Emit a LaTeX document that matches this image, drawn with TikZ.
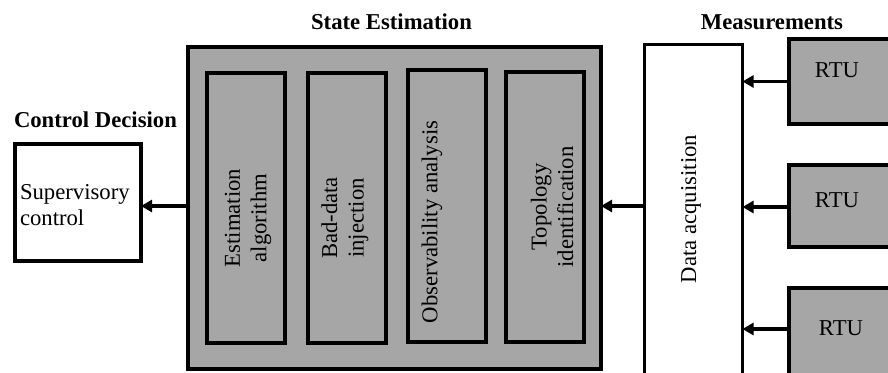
\documentclass[tikz,border=0pt]{standalone}
\usepackage{fontspec}
\setmainfont{Liberation Serif}
\usetikzlibrary{arrows.meta,calc}
\definecolor{boxgray}{RGB}{166,166,166}
\begin{document}
\begin{tikzpicture}[x=1pt,y=-1pt,
  every node/.style={font=\fontsize{22.7}{26.5}\selectfont, inner sep=0pt, outer sep=0pt},
  graybox/.style={draw=black, fill=boxgray, line width=4pt},
  whitebox/.style={draw=black, fill=white, line width=3.6pt},
  inbox/.style={graybox, minimum width=78pt, minimum height=270pt},
  vtext/.style={rotate=90, align=center},
  title/.style={font=\fontsize{22.7}{26}\selectfont\bfseries, anchor=base},
  arr/.style={line width=3.6pt, -{Triangle[length=11pt,width=12pt]}}]
\useasboundingbox (0,0) rectangle (888,372);

% state estimation block and its four stages
\node[graybox, minimum width=413pt, minimum height=322pt] (se) at (394.5,208) {};
\node[inbox] (e1) at (246,207.5) {};
\node[inbox] (e2) at (346.5,207.5) {};
\node[inbox, minimum height=272pt] (e3) at (446.5,206) {};
\node[inbox] (e4) at (544.5,206.5) {};
\node[vtext] (t1) at (248,218) {Estimation\\algorithm};
\node[vtext] (t2) at (345,218) {Bad-data\\injection};
\node[vtext] (t3) at (432,222) {Observability analysis};
\node[vtext] (t4) at (552,207) {Topology\\identification};

% measurement side
\node[whitebox, minimum width=98pt, minimum height=360pt] (da) at (693.5,224.5) {};
\node[vtext] (dat) at (691,209) {Data acquisition};
\node[graybox, minimum width=130pt, minimum height=85pt] (r1) at (854,81.5) {};
\node[graybox, minimum width=130pt, minimum height=82pt] (r2) at (854,206) {};
\node[graybox, minimum width=130pt, minimum height=120pt] (r3) at (854,348) {};
\node (rt1) at (837,70) {RTU};
\node (rt2) at (837,200) {RTU};
\node (rt3) at (841,328) {RTU};

% control decision side
\node[whitebox, line width=4pt, minimum width=126pt, minimum height=117pt] (sup) at (78,202.5) {};
\node[anchor=west, align=left] (supt) at (20,205) {Supervisory\\control};

% headings
\node[title] (hse) at (391.5,29) {State Estimation};
\node[title] (hm) at (772,29) {Measurements};
\node[title, anchor=base west] (hc) at (14,127) {Control Decision};

% data flow
\draw[arr] (r1.west) -- (r1.west -| da.east);
\draw[arr] (r2.west |- 0,207) -- (da.east |- 0,207);
\draw[arr] (r3.west |- 0,329) -- (da.east |- 0,329);
\draw[arr] (da.west |- 0,206) -- (se.east |- 0,206);
\draw[arr] (se.west |- 0,206) -- (sup.east |- 0,206);
\end{tikzpicture}
\end{document}
